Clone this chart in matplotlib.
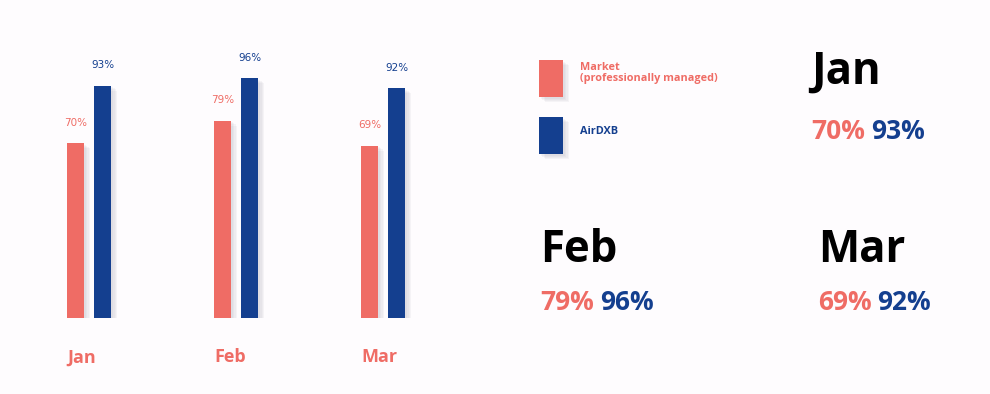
import matplotlib.pyplot as plt
import matplotlib.patheffects as pe
from matplotlib.patches import Rectangle
import numpy as np

plt.rcParams['font.family'] = ['Open Sans', 'DejaVu Sans']

months = ['Jan', 'Feb', 'Mar']
market = [70, 79, 69]
airdxb = [93, 96, 92]
series_names = ['Market\n(professionally managed)', 'AirDXB']

coral = '#ef6c65'
blue = '#143f8f'
bg = '#fefcfe'

W, H = 990, 394


def fx(px):
    return px / W


def fy(py):
    # pixel from top -> figure fraction from bottom
    return 1 - py / H


# soft shadow: a few faint layers
shadow = [pe.SimplePatchShadow(offset=(o, -o * 0.8), shadow_rgbFace='#8a8a9a', alpha=0.07)
          for o in (1.5, 2.5, 3.5, 4.5)] + [pe.Normal()]

fig = plt.figure(figsize=(9.9, 3.94), dpi=100, facecolor=bg)

# bar chart area
ax = fig.add_axes([fx(0.8), fy(318), fx(441), 275 / H])
ax.set_facecolor('none')
x = np.arange(len(months))
w = 0.116
off = 0.092
b1 = ax.bar(x - off, market, w, color=coral, path_effects=shadow)
b2 = ax.bar(x + off, airdxb, w, color=blue, path_effects=shadow)
for xi, v in zip(x - off, market):
    ax.annotate(f'{v}%', (xi, v), xytext=(0, 11), textcoords='offset points',
                ha='center', va='bottom', fontsize=7.5, color=coral, family='DejaVu Sans')
for xi, v in zip(x + off, airdxb):
    ax.annotate(f'{v}%', (xi, v), xytext=(0, 11), textcoords='offset points',
                ha='center', va='bottom', fontsize=7.5, color=blue, family='DejaVu Sans')
ax.set_xlim(-0.6, 2.4)
ax.set_ylim(0, 110)
ax.set_xticks([])
ax.set_yticks([])
for s in ax.spines.values():
    s.set_visible(False)

# month names under the bars, left aligned to market bar
for xi, m in zip(x - off - w / 2, months):
    ax.annotate(m, (xi, 0), xytext=(0, -32), textcoords='offset points',
                ha='left', va='baseline', fontsize=13, fontweight='bold', color=coral)

# legend
for py, col, name in zip([60, 117], [coral, blue], series_names):
    r = Rectangle((fx(539), fy(py + 37)), fx(24), 37 / H, transform=fig.transFigure,
                  facecolor=col, edgecolor='none', path_effects=shadow)
    fig.add_artist(r)
    if '\n' in name:
        fig.text(fx(580), fy(73), name, ha='left', va='center', fontsize=7.8,
                 fontweight='bold', color=col, linespacing=1.0)
    else:
        fig.text(fx(580), fy(131), name, ha='left', va='center', fontsize=7.8,
                 fontweight='bold', color=col)

# big month summaries
spots = [(811, 84, 139), (540, 262, 310), (818, 262, 310)]
for (px, by, pby), m, a, b in zip(spots, months, market, airdxb):
    fig.text(fx(px), fy(by), m, ha='left', va='baseline', fontsize=31.5,
             fontweight='bold', color='black')
    t1 = fig.text(fx(px), fy(pby), f'{a}%', ha='left', va='baseline', fontsize=19,
                  fontweight='bold', color=coral)
    fig.canvas.draw()
    bb = t1.get_window_extent()
    fig.text(fx(bb.x1 + 6), fy(pby), f'{b}%', ha='left', va='baseline', fontsize=19,
             fontweight='bold', color=blue)

plt.savefig('out.png', dpi=100, facecolor=bg)
